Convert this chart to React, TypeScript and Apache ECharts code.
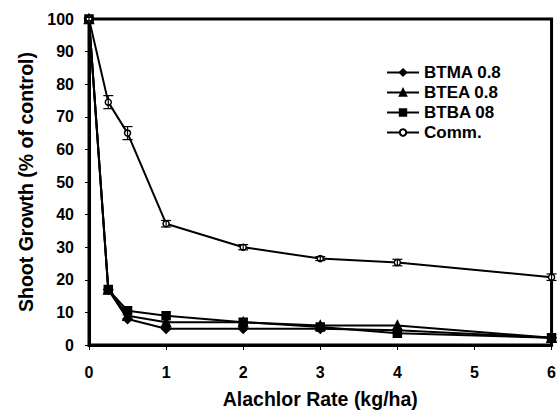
import React, { useEffect, useRef } from "react";
import * as echarts from "echarts";

const rates = [0, 0.25, 0.5, 1, 2, 3, 4, 6];
const btma = [100, 17, 8, 5, 5, 5, 4.5, 2.2];
const btea = [100, 17, 9, 7, 7, 6, 6, 2.2];
const btba = [100, 17, 10.5, 9, 7, 5.5, 3.6, 2.2];
const comm = [100, 74.5, 65, 37.2, 30, 26.5, 25.3, 20.8];
const commErr = [0.5, 2, 2, 1, 0.8, 0.6, 1, 1];
const xTicks = [0, 1, 2, 3, 4, 5, 6];

export default function App() {
  const ref = useRef<HTMLDivElement>(null);
  useEffect(() => {
    const chart = echarts.init(ref.current!, null, { renderer: "svg" });
    const font = "'Liberation Sans', Arial, sans-serif";
    const pair = (ys: number[]) => rates.map((x, i) => [x, ys[i]]);
    const lineSeries = (name: string, ys: number[], symbol: string, size: number, fill = "#000") => ({
      name,
      type: "line",
      data: pair(ys),
      symbol,
      symbolSize: size,
      showAllSymbol: true,
      lineStyle: { color: "#000", width: 2 },
      itemStyle: { color: fill, borderColor: "#000", borderWidth: 1.5 },
      z: 3,
    });
    chart.setOption({
      animation: false,
      backgroundColor: "#fff",
      textStyle: { fontFamily: font },
      grid: { left: 89, right: 6, top: 19, bottom: 68, show: true, borderColor: "#000", borderWidth: 3, backgroundColor: "transparent" },
      legend: {
        left: 381,
        top: 59,
        orient: "vertical",
        itemWidth: 32,
        itemHeight: 8,
        itemGap: 3,
        textStyle: { fontFamily: font, fontWeight: "bold", fontSize: 17, color: "#000" },
        data: ["BTMA 0.8", "BTEA 0.8", "BTBA 08", "Comm."],
      },
      xAxis: {
        type: "value",
        min: 0,
        max: 6,
        interval: 1,
        name: "Alachlor Rate (kg/ha)",
        nameLocation: "middle",
        nameGap: 44,
        nameTextStyle: { fontFamily: font, fontWeight: "bold", fontSize: 19.5, color: "#000" },
        axisLine: { lineStyle: { color: "#000", width: 3 } },
        axisTick: { show: true, inside: false, length: 5, lineStyle: { color: "#000", width: 1 } },
        axisLabel: { fontFamily: font, fontWeight: "bold", fontSize: 16, color: "#000", margin: 19, formatter: (v: number) => (xTicks.includes(v) ? String(v) : "") },
        splitLine: { show: false },
      },
      yAxis: {
        type: "value",
        min: 0,
        max: 100,
        interval: 10,
        name: "Shoot Growth (% of control)",
        nameLocation: "middle",
        nameGap: 51,
        nameTextStyle: { fontFamily: font, fontWeight: "bold", fontSize: 19.5, color: "#000" },
        axisLine: { lineStyle: { color: "#000", width: 3 } },
        axisTick: { show: true, inside: false, length: 4, lineStyle: { color: "#000", width: 1 } },
        axisLabel: { fontFamily: font, fontWeight: "bold", fontSize: 16, color: "#000", margin: 15 },
        splitLine: { show: false },
      },
      series: [
        lineSeries("BTMA 0.8", btma, "diamond", 9),
        lineSeries("BTEA 0.8", btea, "triangle", 9),
        lineSeries("BTBA 08", btba, "rect", 8),
        lineSeries("Comm.", comm, "circle", 6, "#fff"),
        {
          type: "custom",
          name: "err",
          data: rates.map((x, i) => [x, comm[i] - commErr[i], comm[i] + commErr[i]]),
          z: 4,
          renderItem: (params: any, api: any) => {
            const x = api.value(0);
            const lo = api.coord([x, api.value(1)]);
            const hi = api.coord([x, api.value(2)]);
            const w = 5;
            const st = { stroke: "#000", lineWidth: 1.2 };
            return {
              type: "group",
              children: [
                { type: "line", shape: { x1: lo[0], y1: lo[1], x2: hi[0], y2: hi[1] }, style: st },
                { type: "line", shape: { x1: lo[0] - w, y1: lo[1], x2: lo[0] + w, y2: lo[1] }, style: st },
                { type: "line", shape: { x1: hi[0] - w, y1: hi[1], x2: hi[0] + w, y2: hi[1] }, style: st },
              ],
            };
          },
        },
      ],
    });
    return () => chart.dispose();
  }, []);
  return <div ref={ref} style={{ width: 559, height: 414, position: "absolute", left: 0, top: 0 }} />;
}
